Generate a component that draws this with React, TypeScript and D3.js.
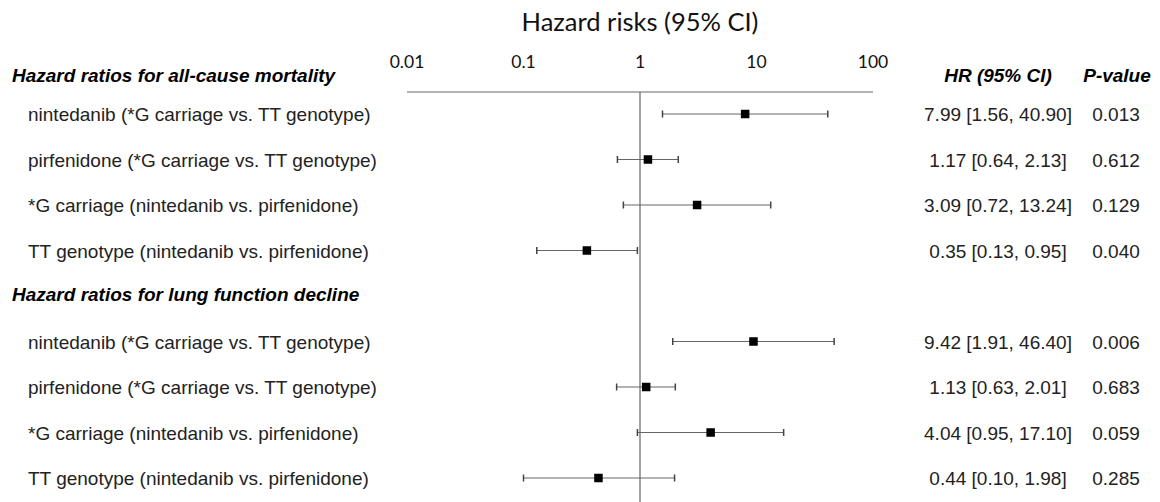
import React from "react";
import * as d3 from "d3";

const groupTitles = [
  "Hazard ratios for all-cause mortality",
  "Hazard ratios for lung function decline",
];
const rowLabels = [
  "nintedanib (*G carriage vs. TT genotype)",
  "pirfenidone (*G carriage vs. TT genotype)",
  "*G carriage (nintedanib vs. pirfenidone)",
  "TT genotype (nintedanib vs. pirfenidone)",
];
const rowGroup = [0, 0, 0, 0, 1, 1, 1, 1];
const rowLabelIndex = [0, 1, 2, 3, 0, 1, 2, 3];
const hr = [7.99, 1.17, 3.09, 0.35, 9.42, 1.13, 4.04, 0.44];
const lower = [1.56, 0.64, 0.72, 0.13, 1.91, 0.63, 0.95, 0.1];
const upper = [40.9, 2.13, 13.24, 0.95, 46.4, 2.01, 17.1, 1.98];
const pValues = ["0.013", "0.612", "0.129", "0.040", "0.006", "0.683", "0.059", "0.285"];
const tickValues = [0.01, 0.1, 1, 10, 100];
const tickLabels = ["0.01", "0.1", "1", "10", "100"];

const W = 1160;
const H = 502;
const sans = "'Liberation Sans', Arial, sans-serif";
const calibri = "Lato, 'Open Sans', sans-serif";

export default function App() {
  const x = d3.scaleLog().domain([0.01, 100]).range([407, 873]);
  const slotY = d3.scaleLinear().domain([1, 9]).range([114, 478]);
  const rowSlot = rowGroup.map((g, i) => (g === 0 ? 1 + (i % 4) : 6 + (i % 4)));
  const axisY = 92;
  const hrCol = 998;
  const pCol = 1116;
  const capH = 7;
  const box = 8.5;
  const fs = 19;
  const fmt = (v: number) => d3.format(".2f")(v);

  return (
    <svg
      width={W}
      height={H}
      style={{ position: "absolute", left: 0, top: 0, background: "#fff" }}
    >
      <text x={x(1)} y={31} textAnchor="middle" fontFamily={calibri} fontSize={25.5} fill="#111">
        Hazard risks (95% CI)
      </text>
      {tickValues.map((t, i) => (
        <text
          key={"t" + i}
          x={x(t)}
          y={68}
          textAnchor="middle"
          fontFamily={calibri}
          fontSize={17.5}
          fill="#111"
        >
          {tickLabels[i]}
        </text>
      ))}
      <line x1={x(0.01)} x2={x(100)} y1={axisY} y2={axisY} stroke="#666" strokeWidth={1.2} />
      <line x1={x(1)} x2={x(1)} y1={axisY} y2={H} stroke="#666" strokeWidth={1.2} />

      <text x={12} y={82} fontFamily={sans} fontSize={fs} fontWeight="bold" fontStyle="italic" fill="#000">
        {groupTitles[0]}
      </text>
      <text x={12} y={slotY(5) + 5} fontFamily={sans} fontSize={fs} fontWeight="bold" fontStyle="italic" fill="#000">
        {groupTitles[1]}
      </text>
      <text x={hrCol} y={82} textAnchor="middle" fontFamily={sans} fontSize={fs} fontWeight="bold" fontStyle="italic" fill="#000">
        HR (95% CI)
      </text>
      <text x={1117} y={82} textAnchor="middle" fontFamily={sans} fontSize={fs} fontWeight="bold" fontStyle="italic" fill="#000">
        P-value
      </text>

      {hr.map((v, i) => {
        const y = slotY(rowSlot[i]);
        return (
          <g key={"r" + i}>
            <text x={28} y={y + 7} fontFamily={sans} fontSize={fs} fill="#222">
              {rowLabels[rowLabelIndex[i]]}
            </text>
            <line x1={x(lower[i])} x2={x(upper[i])} y1={y} y2={y} stroke="#666" strokeWidth={1.2} />
            <line x1={x(lower[i])} x2={x(lower[i])} y1={y - capH / 2} y2={y + capH / 2} stroke="#444" strokeWidth={1.5} />
            <line x1={x(upper[i])} x2={x(upper[i])} y1={y - capH / 2} y2={y + capH / 2} stroke="#444" strokeWidth={1.5} />
            <rect x={x(v) - box / 2} y={y - box / 2} width={box} height={box} fill="#000" />
            <text x={hrCol} y={y + 7} textAnchor="middle" fontFamily={sans} fontSize={fs} fill="#222">
              {`${fmt(v)} [${fmt(lower[i])}, ${fmt(upper[i])}]`}
            </text>
            <text x={pCol} y={y + 7} textAnchor="middle" fontFamily={sans} fontSize={fs} fill="#222">
              {pValues[i]}
            </text>
          </g>
        );
      })}
    </svg>
  );
}
